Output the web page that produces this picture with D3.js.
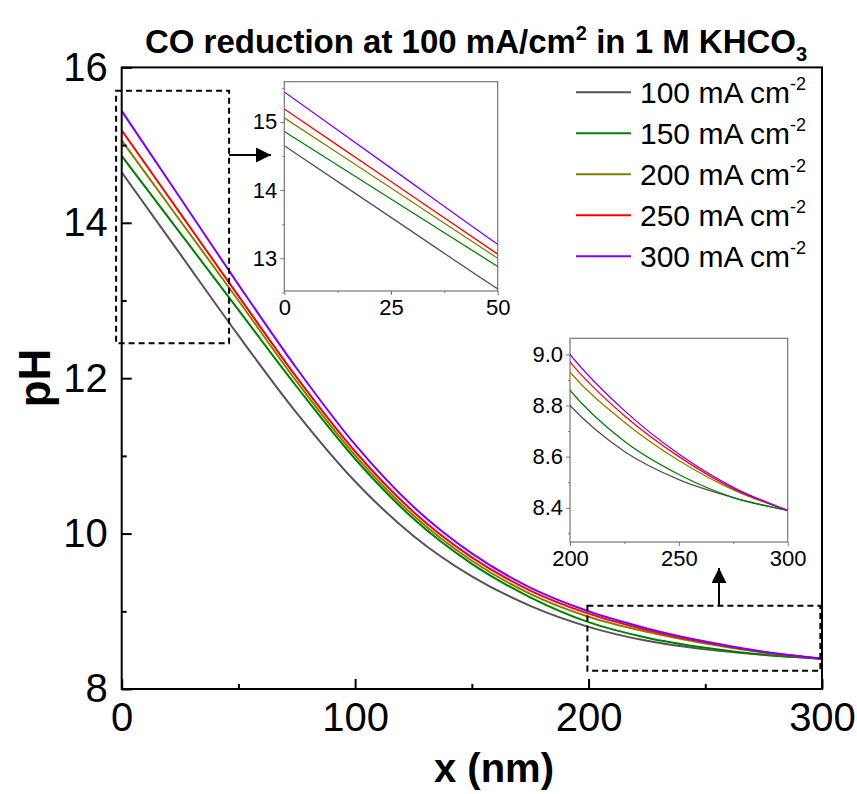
<!DOCTYPE html>
<html>
<head>
<meta charset="utf-8">
<script src="https://cdn.jsdelivr.net/npm/d3@7"></script>
<style>
  body { margin: 0; background: #fff; }
  text { font-family: "Liberation Sans", Arial, sans-serif; }
</style>
</head>
<body>
<div id="container"></div>
<script>
// chart data
var xValues = [0, 25, 50, 75, 100, 125, 150, 175, 200, 225, 250, 275, 300];
var ph100 = [14.65, 13.60, 12.55, 11.55, 10.67, 9.97, 9.45, 9.07, 8.80, 8.62, 8.51, 8.44, 8.39];
var ph150 = [14.86, 13.87, 12.88, 11.89, 10.96, 10.19, 9.61, 9.18, 8.86, 8.66, 8.53, 8.44, 8.39];
var ph200 = [15.06, 14.03, 13.00, 11.955, 11.006, 10.232, 9.651, 9.225, 8.93, 8.735, 8.585, 8.47, 8.39];
var ph250 = [15.19, 14.125, 13.06, 12.01, 11.057, 10.279, 9.695, 9.267, 8.97, 8.76, 8.60, 8.475, 8.39];
var ph300 = [15.44, 14.3225, 13.205, 12.125, 11.145, 10.345, 9.745, 9.305, 9.00, 8.78, 8.61, 8.48, 8.39];
var seriesNames = ["100 mA cm", "150 mA cm", "200 mA cm", "250 mA cm", "300 mA cm"];
var seriesColors = ["#555555", "#008000", "#808000", "#ff0000", "#8000ff"];
var xTicks = [0, 100, 200, 300];
var yTicks = [8, 10, 12, 14, 16];
var inset1XTicks = [0, 25, 50];
var inset1YTicks = [13, 14, 15];
var inset2XTicks = [200, 250, 300];
var inset2YTicks = [8.4, 8.6, 8.8, 9.0];

// canvas and plot box
var canvasX = 857;
var canvasY = 794;
var plotLeft = 121.7, plotRight = 822, plotTop = 67.4, plotBottom = 689;

var allSeries = [ph100, ph150, ph200, ph250, ph300].map(function(vals, i) {
    return {
        name: seriesNames[i],
        color: seriesColors[i],
        points: xValues.map(function(x, j) { return [x, vals[j]]; })
    };
});

var svg = d3.select("#container")
            .append("svg")
            .attr("width", canvasX)
            .attr("height", canvasY);

// scales for the main plot
var xScale = d3.scaleLinear().domain([0, 300]).range([plotLeft, plotRight]);
var yScale = d3.scaleLinear().domain([8, 16]).range([plotBottom, plotTop]);

// draw the curves of one panel
function drawCurves(g, xs, ys, width, clipId) {
    g.append("clipPath")
     .attr("id", clipId)
     .append("rect")
     .attr("x", xs.range()[0])
     .attr("y", ys.range()[1])
     .attr("width", xs.range()[1] - xs.range()[0])
     .attr("height", ys.range()[0] - ys.range()[1]);

    var line = d3.line()
                 .x(function(d) { return xs(d[0]); })
                 .y(function(d) { return ys(d[1]); })
                 .curve(d3.curveMonotoneX);

    g.append("g")
     .attr("clip-path", "url(#" + clipId + ")")
     .selectAll("path")
     .data(allSeries)
     .enter()
     .append("path")
     .attr("d", function(d) { return line(d.points); })
     .attr("fill", "none")
     .attr("stroke", function(d) { return d.color; })
     .attr("stroke-width", width);
}

// main curves
drawCurves(svg, xScale, yScale, 2, "clipMain");

// main axes, ticks pointing inwards
var xAxis = d3.axisBottom(xScale)
              .tickValues(xTicks)
              .tickSizeInner(-10)
              .tickSizeOuter(0)
              .tickPadding(14);
var xMinor = d3.axisBottom(xScale)
               .tickValues([50, 150, 250])
               .tickSize(-5)
               .tickFormat("");
var yAxis = d3.axisLeft(yScale)
              .tickValues(yTicks)
              .tickSizeInner(-10)
              .tickSizeOuter(0)
              .tickPadding(14);
var yMinor = d3.axisLeft(yScale)
               .tickValues([9, 11, 13, 15])
               .tickSize(-5)
               .tickFormat("");

var gx = svg.append("g")
            .attr("transform", "translate(0," + plotBottom + ")")
            .call(xAxis);
svg.append("g")
   .attr("transform", "translate(0," + plotBottom + ")")
   .call(xMinor);
var gy = svg.append("g")
            .attr("transform", "translate(" + plotLeft + ",0)")
            .call(yAxis);
svg.append("g")
   .attr("transform", "translate(" + plotLeft + ",0)")
   .call(yMinor);

svg.selectAll(".domain").remove();
svg.selectAll(".tick line").attr("stroke", "#000").attr("stroke-width", 2);
gx.selectAll("text").attr("font-size", 40).attr("fill", "#000").attr("dy", "0.71em");
gy.selectAll("text").attr("font-size", 40).attr("fill", "#000");

// frame of the main plot
svg.append("rect")
   .attr("x", plotLeft)
   .attr("y", plotTop)
   .attr("width", plotRight - plotLeft)
   .attr("height", plotBottom - plotTop)
   .attr("fill", "none")
   .attr("stroke", "#000")
   .attr("stroke-width", 2);

// axis labels
svg.append("text")
   .attr("x", 494)
   .attr("y", 782)
   .attr("text-anchor", "middle")
   .attr("font-size", 40)
   .attr("font-weight", "bold")
   .text("x (nm)");

svg.append("text")
   .attr("transform", "translate(50,378) rotate(-90)")
   .attr("text-anchor", "middle")
   .attr("font-size", 44)
   .attr("font-weight", "bold")
   .text("pH");

// title
var title = svg.append("text")
               .attr("x", 476)
               .attr("y", 53)
               .attr("text-anchor", "middle")
               .attr("font-size", 33)
               .attr("font-weight", "bold");
title.append("tspan").text("CO reduction at 100 mA/cm");
title.append("tspan").attr("font-size", 20).attr("dy", -13).text("2");
title.append("tspan").attr("dy", 13).text(" in 1 M KHCO");
title.append("tspan").attr("font-size", 20).attr("dy", 8).text("3");

// legend
var legend = svg.append("g")
                .selectAll("g")
                .data(allSeries)
                .enter()
                .append("g")
                .attr("transform", function(d, i) {
                    return "translate(576," + (92.3 + i * 41) + ")";
                });

legend.append("line")
      .attr("x1", 0)
      .attr("x2", 55)
      .attr("stroke", function(d) { return d.color; })
      .attr("stroke-width", 2);

var legendText = legend.append("text")
                       .attr("x", 64)
                       .attr("y", 11)
                       .attr("font-size", 30);
legendText.append("tspan").text(function(d) { return d.name; });
legendText.append("tspan")
          .attr("font-size", 18)
          .attr("dy", -13)
          .text("-2");

// dashed zoom boxes and arrows
function dashedBox(x0, x1, y0, y1) {
    svg.append("rect")
       .attr("x", xScale(x0))
       .attr("y", yScale(y1))
       .attr("width", xScale(x1) - xScale(x0))
       .attr("height", yScale(y0) - yScale(y1))
       .attr("fill", "none")
       .attr("stroke", "#000")
       .attr("stroke-width", 2)
       .attr("stroke-dasharray", "6,4");
}
dashedBox(-2.4, 46, 12.45, 15.7);
dashedBox(199.5, 299.3, 8.236, 9.07);

svg.append("defs")
   .append("marker")
   .attr("id", "head")
   .attr("viewBox", "0 0 10 10")
   .attr("refX", 10)
   .attr("refY", 5)
   .attr("markerWidth", 7.5)
   .attr("markerHeight", 7.5)
   .attr("markerUnits", "strokeWidth")
   .attr("orient", "auto")
   .append("path")
   .attr("d", "M0,0 L10,5 L0,10 Z")
   .attr("fill", "#000");

svg.append("line")
   .attr("x1", xScale(46))
   .attr("y1", 155)
   .attr("x2", 271)
   .attr("y2", 155)
   .attr("stroke", "#000")
   .attr("stroke-width", 2)
   .attr("marker-end", "url(#head)");

svg.append("line")
   .attr("x1", 719)
   .attr("y1", yScale(9.07))
   .attr("x2", 719)
   .attr("y2", 568)
   .attr("stroke", "#000")
   .attr("stroke-width", 2)
   .attr("marker-end", "url(#head)");

// insets
function drawInset(x0, x1, y0, y1, xDom, yDom, xt, yt, xMinorTicks, yMinorTicks, fmt, clipId) {
    var xs = d3.scaleLinear().domain(xDom).range([x0, x1]);
    var ys = d3.scaleLinear().domain(yDom).range([y1, y0]);
    var g = svg.append("g");

    g.append("rect")
     .attr("x", x0)
     .attr("y", y0)
     .attr("width", x1 - x0)
     .attr("height", y1 - y0)
     .attr("fill", "#fff")
     .attr("stroke", "#777")
     .attr("stroke-width", 1.2);

    drawCurves(g, xs, ys, 1.3, clipId);

    var ax = g.append("g")
              .attr("transform", "translate(0," + y1 + ")")
              .call(d3.axisBottom(xs).tickValues(xt).tickSize(4).tickSizeOuter(0).tickPadding(4));
    g.append("g")
     .attr("transform", "translate(0," + y1 + ")")
     .call(d3.axisBottom(xs).tickValues(xMinorTicks).tickSize(2).tickFormat(""));
    var ay = g.append("g")
              .attr("transform", "translate(" + x0 + ",0)")
              .call(d3.axisLeft(ys).tickValues(yt).tickSize(4).tickSizeOuter(0).tickPadding(3).tickFormat(fmt));
    g.append("g")
     .attr("transform", "translate(" + x0 + ",0)")
     .call(d3.axisLeft(ys).tickValues(yMinorTicks).tickSize(2).tickFormat(""));

    g.selectAll(".domain").remove();
    g.selectAll(".tick line").attr("stroke", "#777");
    ax.selectAll("text").attr("font-size", 22).attr("fill", "#000");
    ay.selectAll("text").attr("font-size", 22).attr("fill", "#000");
}

drawInset(284.3, 497.7, 81.7, 291, [0, 50], [12.52, 15.59],
          inset1XTicks, inset1YTicks, [12.5, 37.5], [12.5, 13.5, 14.5, 15.5], d3.format("d"), "clipIn1");
drawInset(570, 787.7, 338.3, 542, [200, 300], [8.266, 9.063],
          inset2XTicks, inset2YTicks, [225, 275], [8.3, 8.5, 8.7, 8.9], d3.format(".1f"), "clipIn2");
</script>
</body>
</html>
